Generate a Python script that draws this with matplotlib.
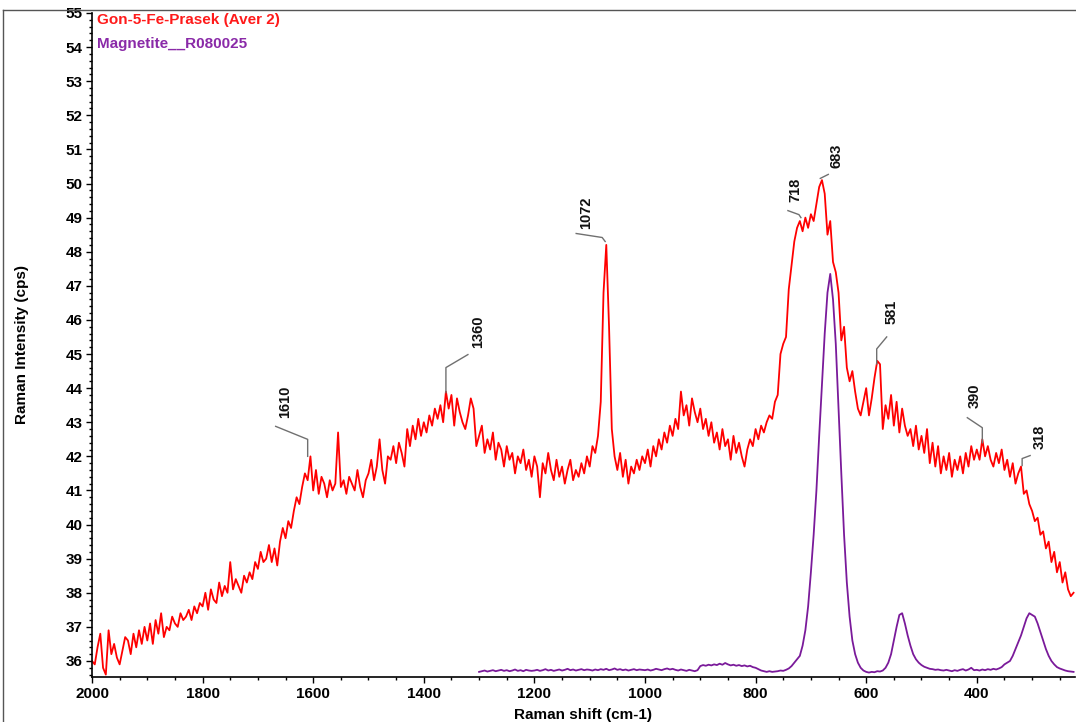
import numpy as np
import matplotlib
matplotlib.use("Agg")
import matplotlib.pyplot as plt
from matplotlib.lines import Line2D
from matplotlib.ticker import MultipleLocator

plt.rcParams['font.family'] = ['Liberation Sans', 'DejaVu Sans']
plt.rcParams['font.weight'] = 'bold'

# Gon-5-Fe-Prasek spectrum, read every 5 cm-1 from 2000 down
sample_start = 2000
sample_step = 5
sample_cps = [
    36.0, 35.9, 36.4, 36.8, 35.8, 35.6, 36.9, 36.2, 36.5, 36.1, 35.9, 36.3, 36.7, 36.6, 36.2, 36.8, 36.4, 36.9, 36.5, 37.0,
    36.6, 37.1, 36.5, 37.2, 36.8, 37.4, 36.7, 37.0, 36.9, 37.3, 37.1, 37.0, 37.4, 37.2, 37.3, 37.5, 37.2, 37.6, 37.4, 37.7,
    37.6, 38.0, 37.5, 38.1, 37.8, 37.7, 38.3, 37.9, 38.2, 38.0, 38.9, 38.1, 38.4, 38.2, 38.0, 38.5, 38.3, 38.6, 38.4, 38.9,
    38.7, 39.2, 38.9, 39.0, 39.4, 38.9, 39.3, 38.8, 39.5, 39.9, 39.6, 40.1, 39.9, 40.4, 40.8, 40.6, 41.1, 41.5, 41.3, 42.0,
    41.0, 41.6, 40.9, 41.4, 41.2, 40.8, 41.3, 41.0, 41.2, 42.7, 41.1, 41.3, 40.9, 41.4, 41.2, 41.0, 41.6, 41.1, 40.8, 41.3,
    41.5, 41.9, 41.3, 41.7, 42.5, 41.6, 41.2, 42.0, 41.9, 42.3, 41.8, 42.4, 42.1, 41.7, 42.8, 42.3, 42.9, 42.5, 43.1, 42.6,
    43.0, 42.7, 43.2, 42.9, 43.4, 43.1, 43.5, 43.0, 43.9, 43.4, 43.8, 42.9, 43.7, 43.3, 43.0, 42.8, 43.2, 43.7, 43.4, 42.3,
    42.6, 42.9, 42.1, 42.5, 42.2, 42.7, 41.9, 42.4, 42.2, 41.7, 42.3, 41.9, 42.1, 41.5, 42.0, 41.8, 42.2, 41.6, 41.9, 41.4,
    42.0, 41.7, 40.8, 41.8, 41.5, 42.1, 41.6, 41.3, 41.9, 41.4, 41.7, 41.2, 41.6, 41.9, 41.3, 41.6, 41.4, 41.8, 41.5, 42.0,
    41.7, 42.3, 42.1, 42.6, 43.6, 46.8, 48.2, 45.8, 42.8, 42.0, 41.6, 42.1, 41.4, 41.9, 41.2, 41.7, 41.5, 41.9, 41.6, 42.0,
    41.8, 42.2, 41.7, 42.3, 42.0, 42.5, 42.2, 42.7, 42.4, 42.9, 42.6, 43.1, 42.8, 43.9, 43.2, 43.5, 42.9, 43.7, 43.3, 43.0,
    43.4, 42.8, 43.1, 42.6, 43.0, 42.4, 42.7, 42.2, 42.8, 42.3, 42.5, 41.9, 42.6, 42.1, 42.4, 42.0, 41.7, 42.2, 42.5, 42.3,
    42.8, 42.5, 42.9, 42.7, 43.0, 43.2, 43.1, 43.6, 43.8, 45.0, 45.3, 45.5, 46.9, 47.6, 48.3, 48.7, 48.9, 48.6, 49.0, 48.7,
    49.1, 48.9, 49.4, 49.9, 50.1, 49.7, 48.5, 48.9, 47.7, 47.4, 46.8, 45.4, 45.8, 44.6, 44.2, 44.5, 43.9, 43.4, 43.2, 43.6,
    44.0, 43.2, 43.7, 44.3, 44.8, 44.7, 42.8, 43.5, 43.1, 43.8, 42.9, 43.6, 42.7, 43.4, 42.9, 42.6, 42.8, 42.3, 42.9, 42.2,
    42.6, 42.1, 42.8, 41.8, 42.4, 41.7, 42.3, 41.5, 42.0, 41.6, 42.1, 41.4, 41.9, 41.6, 42.0, 41.5, 42.1, 41.7, 42.3, 41.9,
    42.2, 41.9, 42.5, 42.0, 42.3, 41.9, 41.7, 42.1, 41.8, 42.2, 41.6, 41.9, 41.4, 41.8, 41.2, 41.5, 41.7, 40.9, 41.0, 40.6,
    40.4, 40.1, 40.2, 39.7, 39.8, 39.3, 39.5, 38.9, 39.2, 38.6, 38.9, 38.3, 38.6, 38.1, 37.9, 38.0,
]

# Magnetite R080025 reference, every 5 cm-1 from 1300 down
ref_start = 1300
ref_step = 5
ref_cps = [
    35.68, 35.70, 35.72, 35.69, 35.71, 35.73, 35.70, 35.72, 35.74, 35.71, 35.73, 35.70, 35.72, 35.75, 35.71, 35.73, 35.70, 35.74, 35.72, 35.71,
    35.72, 35.74, 35.71, 35.73, 35.76, 35.72, 35.74, 35.71, 35.73, 35.75, 35.72, 35.74, 35.77, 35.73, 35.75, 35.72, 35.74, 35.76, 35.73, 35.75,
    35.74, 35.72, 35.75, 35.73, 35.76, 35.74, 35.77, 35.73, 35.75, 35.78, 35.74, 35.76, 35.73, 35.75, 35.72, 35.74, 35.76, 35.73, 35.75, 35.74,
    35.73, 35.75, 35.72, 35.74, 35.77, 35.75, 35.73, 35.76, 35.78, 35.75, 35.77, 35.74, 35.72, 35.75, 35.73, 35.71, 35.74, 35.72, 35.70, 35.73,
    35.85, 35.88, 35.86, 35.89, 35.87, 35.90, 35.88, 35.92, 35.89, 35.94, 35.90, 35.87, 35.89, 35.86, 35.88, 35.85, 35.87, 35.84, 35.86, 35.82,
    35.80, 35.76, 35.72, 35.70, 35.68, 35.70, 35.68, 35.69, 35.70, 35.72, 35.71, 35.74, 35.78, 35.85, 35.95, 36.05, 36.15, 36.45, 36.90, 37.60,
    38.60, 39.70, 41.00, 42.60, 44.10, 45.60, 46.80, 47.35, 46.60, 45.30, 43.40, 41.50, 39.70, 38.30, 37.30, 36.60, 36.20, 35.95, 35.80, 35.72,
    35.68, 35.66, 35.68, 35.67, 35.70, 35.69, 35.72, 35.80, 35.95, 36.20, 36.60, 37.00, 37.35, 37.40, 37.10, 36.75, 36.45, 36.20, 36.05, 35.95,
    35.88, 35.83, 35.80, 35.77, 35.76, 35.74, 35.75, 35.73, 35.72, 35.74, 35.72, 35.70, 35.73, 35.71, 35.74, 35.76, 35.72, 35.75, 35.80, 35.73,
    35.74, 35.72, 35.75, 35.73, 35.76, 35.74, 35.77, 35.75, 35.78, 35.82, 35.90, 35.95, 36.00, 36.15, 36.35, 36.55, 36.75, 37.00, 37.25, 37.40,
    37.35, 37.30, 37.10, 36.85, 36.60, 36.35, 36.15, 36.00, 35.90, 35.82, 35.78, 35.75, 35.72, 35.70, 35.69, 35.68,
]

# peak labels and the intensity at each labelled peak
peak_pos = [1610, 1360, 1072, 718, 683, 581, 390, 318]
peak_cps = [42.0, 43.87, 48.3, 49.0, 50.15, 44.71, 42.4, 41.73]
# leader path (pixel offsets from the peak) and text anchor offset
leader_path = [
    [(0, 0), (0, 17), (-32, 30)],
    [(0, 0), (0, 25), (22, 38)],
    [(0, 0), (-3, 4), (-29, 8)],
    [(0, 0), (-2, 3), (-13, 7)],
    [(0, 0), (8, 4)],
    [(0, 0), (0, 15), (10, 27)],
    [(0, 0), (0, 15), (-15, 25)],
    [(0, 0), (0, 7), (8, 10)],
]
label_offset = [(-23, 38), (32, 45), (-19, 12), (-6, 16), (16, 10), (15, 40), (-8, 35), (18, 17)]

sample_x = sample_start - sample_step * np.arange(len(sample_cps))
ref_x = ref_start - ref_step * np.arange(len(ref_cps))

fig = plt.figure(figsize=(10.76, 7.22), dpi=100)
ax = fig.add_axes([92 / 1076, 45 / 722, 983 / 1076, 664 / 722])

ax.plot(sample_x, sample_cps, color='#ff0000', lw=1.3)
ax.plot(ref_x, ref_cps, color='#7a1a9a', lw=1.3)

ax.set_xlim(2000, 222.4)
ax.set_ylim(35.53, 55.0)
ax.xaxis.set_major_locator(MultipleLocator(200))
ax.xaxis.set_minor_locator(MultipleLocator(50))
ax.yaxis.set_major_locator(MultipleLocator(1))
ax.yaxis.set_minor_locator(MultipleLocator(0.2))
ax.tick_params(axis='both', which='major', length=4, width=1, labelsize=11, pad=3)
ax.tick_params(axis='both', which='minor', length=2, width=1)
for lab in ax.get_xticklabels() + ax.get_yticklabels():
    lab.set_fontweight('bold')
for side in ['top', 'right']:
    ax.spines[side].set_visible(False)
ax.spines['left'].set_linewidth(1.2)
ax.spines['bottom'].set_linewidth(1.2)

ax.set_xlabel('Raman shift (cm-1)', fontsize=11, fontweight='bold', labelpad=5)
ax.set_ylabel('Raman Intensity (cps)', fontsize=11, fontweight='bold', labelpad=26)

# peak annotations with leader lines
to_disp = ax.transData
to_data = ax.transData.inverted()
for pos, cps, path, (tx, ty) in zip(peak_pos, peak_cps, leader_path, label_offset):
    base = to_disp.transform((pos, cps))
    pts = [to_data.transform((base[0] + dx, base[1] + dy)) for dx, dy in path]
    xs, ys = zip(*pts)
    ax.plot(xs, ys, color='#707070', lw=1)
    txy = to_data.transform((base[0] + tx, base[1] + ty))
    ax.text(txy[0], txy[1], str(pos), rotation=90, ha='center', va='bottom',
            fontsize=10.5, fontweight='bold', color='#111111')

# legend-style titles
fig.text(97 / 1076, 1 - 20 / 722, 'Gon-5-Fe-Prasek (Aver 2)', color='#ff1a1a',
         fontsize=11, fontweight='bold', va='center', ha='left')
fig.text(97 / 1076, 1 - 44 / 722, 'Magnetite__R080025', color='#8a2aa8',
         fontsize=11, fontweight='bold', va='center', ha='left')

# frame of the window
fig.add_artist(Line2D([3 / 1076, 1], [1 - 10 / 722, 1 - 10 / 722], color='#555555', lw=1))
fig.add_artist(Line2D([3 / 1076, 3 / 1076], [0, 1 - 10 / 722], color='#555555', lw=1))

fig.savefig('out.png', dpi=100)
